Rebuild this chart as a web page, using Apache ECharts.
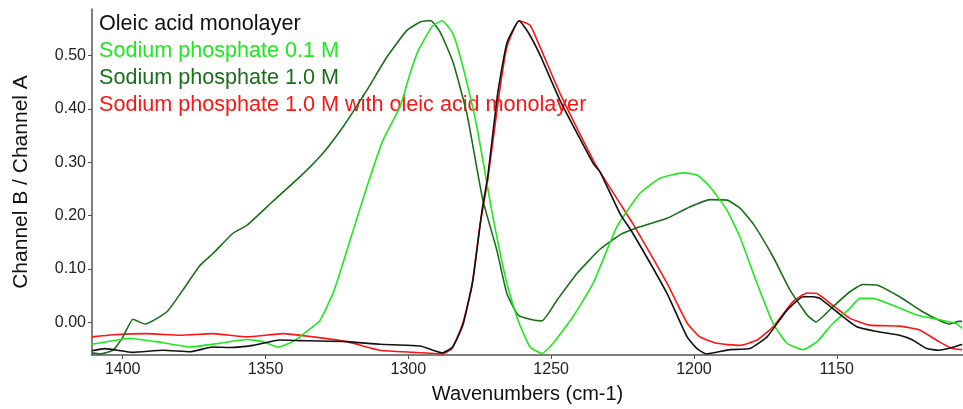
<!DOCTYPE html>
<html>
<head>
<meta charset="utf-8">
<title>Channel ratio spectra</title>
<script type="text/javascript" src="https://cdn.jsdelivr.net/npm/echarts@6/dist/echarts.min.js"></script>
<style>
	html, body { margin: 0; padding: 0; background: #fff; }
	#main { width: 963px; height: 409px; }
</style>
</head>
<body>
<div id="main"></div>
<script type="text/javascript">
	// series names / legend
	var names = [
		'Oleic acid monolayer',
		'Sodium phosphate 0.1 M',
		'Sodium phosphate 1.0 M',
		'Sodium phosphate 1.0 M with oleic acid monolayer'
	];
	var colors = ['#111111', '#1ee81e', '#1a6e1a', '#ff1414'];

	// tick labels
	var xTicks = [1400, 1350, 1300, 1250, 1200, 1150];
	var yTicks = [0, 0.1, 0.2, 0.3, 0.4, 0.5];

	// [wavenumber, ratio]
	var oleic = [
		[1410.8, -0.053], [1406.2, -0.049], [1396.4, -0.056], [1385.9, -0.052], [1376.4, -0.055],
		[1368.4, -0.046], [1362.4, -0.047], [1354.4, -0.043], [1344.9, -0.033], [1337.9, -0.034],
		[1321.5, -0.036], [1309.9, -0.041], [1295.9, -0.044], [1288.2, -0.057], [1284.5, -0.046],
		[1280.9, -0.005], [1277.4, 0.079], [1274.2, 0.210], [1272.2, 0.273], [1268.7, 0.429],
		[1265.5, 0.523], [1261.2, 0.565], [1258.1, 0.544], [1253.9, 0.501], [1246.9, 0.416],
		[1235.3, 0.298], [1232.9, 0.282], [1225.9, 0.204], [1221.4, 0.167], [1209.4, 0.054],
		[1202.4, -0.027], [1198.9, -0.049], [1195.8, -0.059], [1187.4, -0.051], [1180.4, -0.049],
		[1174.4, -0.027], [1167.4, 0.023], [1161.8, 0.048], [1158.3, 0.048], [1155.9, 0.045],
		[1150.0, 0.020], [1143.0, -0.008], [1134.9, -0.018], [1128.0, -0.024], [1123.4, -0.033],
		[1118.5, -0.049], [1114.2, -0.052], [1109.6, -0.047], [1106.1, -0.041]
	];
	var phos01 = [
		[1410.8, -0.041], [1397.4, -0.030], [1385.9, -0.038], [1376.4, -0.046], [1365.9, -0.039],
		[1356.5, -0.032], [1350.9, -0.036], [1345.6, -0.046], [1340.4, -0.036], [1333.4, -0.008],
		[1330.9, 0.004], [1326.4, 0.054], [1324.0, 0.092], [1320.4, 0.154], [1314.5, 0.254],
		[1308.9, 0.341], [1302.9, 0.404], [1299.4, 0.466], [1296.6, 0.508], [1291.7, 0.554],
		[1288.2, 0.565], [1284.4, 0.541], [1280.9, 0.479], [1276.0, 0.366], [1270.4, 0.198],
		[1265.5, 0.073], [1261.6, 0.004], [1257.4, -0.046], [1253.2, -0.058], [1249.3, -0.039],
		[1242.3, 0.011], [1235.3, 0.073], [1227.0, 0.179], [1218.9, 0.242], [1211.9, 0.270],
		[1203.8, 0.280], [1198.9, 0.276], [1194.4, 0.254], [1188.4, 0.210], [1183.9, 0.160],
		[1177.9, 0.073], [1172.3, -0.002], [1167.4, -0.039], [1161.8, -0.051], [1156.9, -0.036],
		[1151.4, -0.002], [1145.5, 0.026], [1141.9, 0.045], [1137.4, 0.045], [1130.4, 0.032],
		[1122.0, 0.014], [1113.1, 0.004], [1108.2, -0.002], [1106.1, -0.011]
	];
	var phos10 = [
		[1410.8, -0.057], [1407.9, -0.059], [1403.4, -0.052], [1399.9, -0.027], [1396.4, 0.006],
		[1392.2, -0.003], [1384.5, 0.020], [1378.9, 0.061], [1372.9, 0.107], [1368.4, 0.129],
		[1361.4, 0.167], [1356.5, 0.182], [1347.4, 0.227], [1337.9, 0.273], [1329.9, 0.317],
		[1322.9, 0.366], [1314.5, 0.435], [1307.5, 0.497], [1300.5, 0.547], [1295.6, 0.563],
		[1292.1, 0.565], [1288.9, 0.544], [1284.4, 0.488], [1279.5, 0.391], [1273.9, 0.229],
		[1269.0, 0.135], [1265.5, 0.054], [1261.6, 0.014], [1257.4, 0.006], [1253.2, 0.003],
		[1247.9, 0.042], [1240.9, 0.092], [1232.9, 0.137], [1225.9, 0.164], [1218.9, 0.179],
		[1209.4, 0.195], [1202.4, 0.214], [1194.4, 0.230], [1188.4, 0.229], [1183.9, 0.214],
		[1179.3, 0.185], [1172.3, 0.123], [1166.4, 0.061], [1160.4, 0.014], [1157.3, 0.001],
		[1151.4, 0.029], [1145.5, 0.057], [1140.9, 0.071], [1136.0, 0.070], [1128.0, 0.048],
		[1119.9, 0.020], [1114.2, 0.004], [1110.6, -0.003], [1107.2, 0.002], [1106.1, 0.002]
	];
	var phos10oleic = [
		[1410.8, -0.027], [1403.4, -0.023], [1391.5, -0.021], [1379.9, -0.024], [1368.4, -0.021],
		[1356.5, -0.027], [1343.9, -0.021], [1333.4, -0.027], [1321.5, -0.036], [1309.9, -0.052],
		[1298.4, -0.056], [1288.2, -0.059], [1284.7, -0.049], [1280.9, -0.001], [1277.8, 0.066],
		[1275.0, 0.179], [1272.2, 0.267], [1268.0, 0.435], [1265.5, 0.516], [1261.2, 0.565],
		[1257.4, 0.557], [1253.9, 0.516], [1246.9, 0.429], [1235.3, 0.304], [1232.9, 0.282],
		[1225.9, 0.223], [1221.4, 0.185], [1209.4, 0.073], [1202.4, -0.001], [1197.9, -0.027],
		[1191.9, -0.039], [1183.9, -0.043], [1177.9, -0.033], [1172.3, -0.008], [1165.3, 0.039],
		[1160.4, 0.055], [1156.9, 0.054], [1151.4, 0.032], [1145.5, 0.008], [1138.5, -0.005],
		[1128.0, -0.007], [1121.0, -0.014], [1114.2, -0.036], [1109.6, -0.049], [1106.1, -0.051]
	];
	var allData = [oleic, phos01, phos10, phos10oleic];

	var myChart = echarts.init(document.getElementById('main'));

	var series = [];
	var legendData = [];
	for (var i = 0; i < names.length; i++) {
		series.push({
			name: names[i],
			type: 'line',
			data: allData[i],
			showSymbol: false,
			smooth: 0.15,
			lineStyle: { color: colors[i], width: 1.6 },
			itemStyle: { color: colors[i] },
			z: 10 - i
		});
		legendData.push({ name: names[i], textStyle: { color: colors[i] } });
	}

	var option = {
		animation: false,
		grid: { left: 92, right: 0, top: 9, bottom: 54 },
		legend: {
			orient: 'vertical',
			left: 89,
			top: 8,
			itemWidth: 0,
			itemHeight: 0,
			itemGap: 5,
			icon: 'rect',
			selectedMode: false,
			data: legendData,
			textStyle: { fontFamily: 'Liberation Sans', fontSize: 21.6 }
		},
		xAxis: {
			type: 'value',
			inverse: true,
			min: 1105.8,
			max: 1410.75,
			name: 'Wavenumbers (cm-1)',
			nameLocation: 'middle',
			nameGap: 29,
			nameTextStyle: { fontFamily: 'Liberation Sans', fontSize: 20, color: '#111' },
			axisLine: { onZero: false, lineStyle: { color: '#555', width: 1.5 } },
			axisTick: { length: 4, lineStyle: { color: '#555' }, customValues: xTicks },
			axisLabel: {
				fontFamily: 'Liberation Sans', fontSize: 16, color: '#222', margin: 7,
				customValues: xTicks,
				formatter: function (v) { return String(v); }
			},
			splitLine: { show: false }
		},
		yAxis: {
			type: 'value',
			min: -0.061,
			max: 0.587,
			name: 'Channel B / Channel A',
			nameLocation: 'middle',
			nameGap: 60,
			nameTextStyle: { fontFamily: 'Liberation Sans', fontSize: 21, color: '#111' },
			axisLine: { show: true, onZero: false, lineStyle: { color: '#555', width: 1.5 } },
			axisTick: { show: true, length: 4, lineStyle: { color: '#555' }, customValues: yTicks },
			axisLabel: {
				fontFamily: 'Liberation Sans', fontSize: 16, color: '#222', margin: 6,
				customValues: yTicks,
				formatter: function (v) { return v.toFixed(2); }
			},
			splitLine: { show: false }
		},
		series: series
	};
	myChart.setOption(option);
</script>
</body>
</html>
